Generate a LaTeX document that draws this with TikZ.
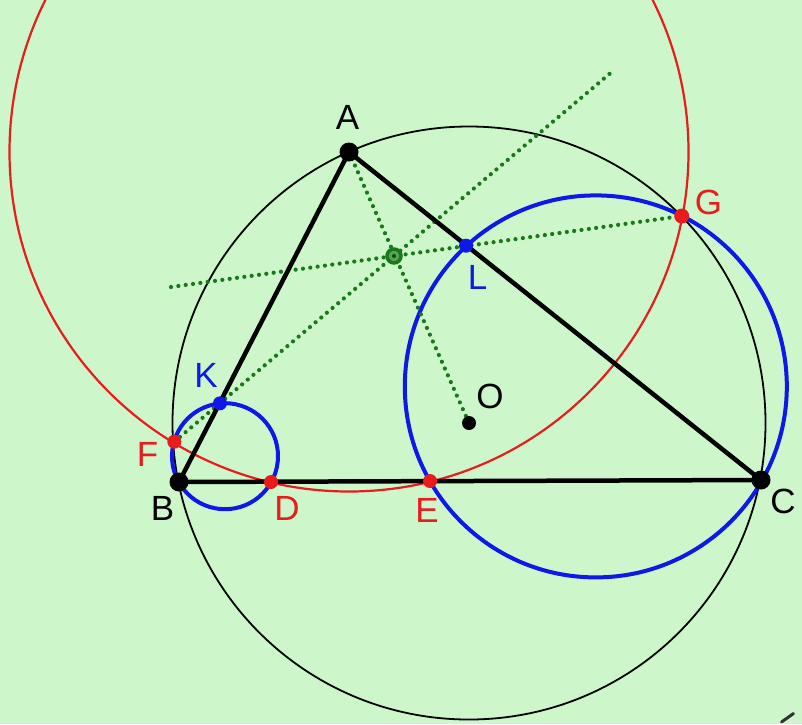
\documentclass[tikz,border=0pt]{standalone}
\usepackage{fontspec}
\setmainfont{Liberation Sans}
\usetikzlibrary{calc}
\definecolor{bg}{RGB}{205,247,203}
\definecolor{gdot}{RGB}{25,120,25}
\definecolor{rcol}{RGB}{232,28,28}
\definecolor{bcol}{RGB}{14,24,232}
\tikzset{
  circum/.style={draw=black,line width=1.8pt},
  redc/.style={draw=rcol,line width=2.2pt},
  bluec/.style={draw=bcol,line width=4pt},
  side/.style={draw=black,line width=4.5pt,line cap=round},
  gline/.style={draw=gdot,line width=4.2pt,line cap=round,dash pattern=on 0pt off 7.4pt},
  bigpt/.style={fill=black},
  redpt/.style={fill=rcol},
  bluept/.style={fill=bcol},
  lbl/.style={inner sep=0pt,font=\fontsize{35}{40}\selectfont}
}
\begin{document}
\begin{tikzpicture}[x=1pt,y=-1pt]
\fill[bg] (0,0) rectangle (802,724);
\useasboundingbox (0,0) rectangle (802,724);
\clip (0,0) rectangle (802,724);
% points
\coordinate (A) at (349,152);
\coordinate (B) at (179,482);
\coordinate (C) at (761,480);
\coordinate (O) at (469,423);
\coordinate (D) at (271,482);
\coordinate (E) at (430,481);
\coordinate (F) at (174.3,441.7);
\coordinate (G) at (681.7,216);
\coordinate (K) at (220,403.3);
\coordinate (L) at (466,245.7);
\coordinate (P) at (394,256);
\coordinate (SC) at (225,456.2);
\coordinate (BC) at (595.8,386.4);
\coordinate (T1) at ($(F)!1.985!(P)$);
\coordinate (T2) at ($(G)!1.775!(P)$);
\coordinate (M1) at (781.5,722);
\coordinate (M2) at (793.5,713.5);
% circles
\draw[circum] (O) circle[radius=296.5];
\draw[redc] (A) circle[radius=339.5];
\draw[bluec] (SC) circle[radius=53];
\draw[bluec] (BC) circle[radius=191];
% dotted lines
\draw[gline] (A) -- (O);
\draw[gline] (F) -- (T1);
\draw[gline] (T2) -- (G);
% triangle
\draw[side] (A) -- (B) -- (C) -- cycle;
% point marks
\fill[bigpt] (A) circle[radius=9.5];
\fill[bigpt] (B) circle[radius=9.5];
\fill[bigpt] (C) circle[radius=9.5];
\fill[bigpt] (O) circle[radius=7];
\fill[redpt] (D) circle[radius=7];
\fill[redpt] (E) circle[radius=7];
\fill[redpt] (F) circle[radius=7];
\fill[redpt] (G) circle[radius=7.5];
\fill[bluept] (K) circle[radius=7];
\fill[bluept] (L) circle[radius=7];
\filldraw[draw=gdot,fill=gdot!65!bg,line width=3.5pt] (P) circle[radius=7];
\fill[gdot!60!black] (P) circle[radius=2];
% labels
\node[lbl,text=black] (lA) at (347.5,117.5) {A};
\node[lbl,text=black] (lB) at (162.5,508.5) {B};
\node[lbl,text=black] (lC) at (783,501) {C};
\node[lbl,text=black] (lO) at (490,396) {O};
\node[lbl,text=rcol] (lD) at (287,508) {D};
\node[lbl,text=rcol] (lE) at (427,510) {E};
\node[lbl,text=rcol] (lF) at (147.5,454.5) {F};
\node[lbl,text=rcol] (lG) at (708.5,202) {G};
\node[lbl,text=bcol] (lK) at (206,375) {K};
\node[lbl,text=bcol] (lL) at (477.5,277) {L};
% corner mark
\draw[line width=3pt,black!80,line cap=round] (M1) -- (M2);
\end{tikzpicture}
\end{document}
